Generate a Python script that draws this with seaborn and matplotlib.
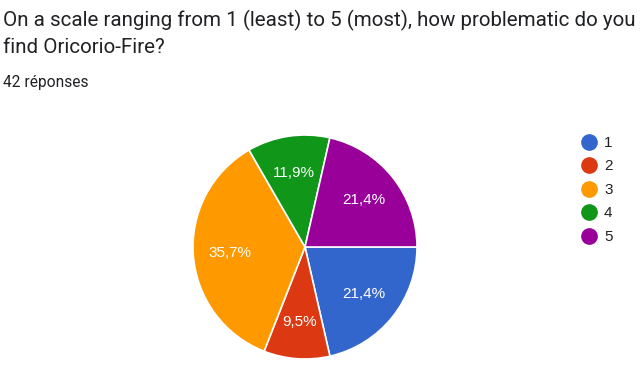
import matplotlib
matplotlib.use("Agg")
import matplotlib.pyplot as plt
from matplotlib.lines import Line2D
import seaborn as sns

categories = ["1", "2", "3", "4", "5"]
counts = [9, 4, 15, 5, 9]
colors = ["#3366cc", "#dc3912", "#ff9900", "#109618", "#990099"]
title_lines = ["On a scale ranging from 1 (least) to 5 (most), how problematic do you",
               "find Oricorio-Fire?"]
subtitle = "42 réponses"

sns.set_theme(style="white")
plt.rcParams['font.family'] = ['Roboto', 'DejaVu Sans']

W, H = 643, 381
fig = plt.figure(figsize=(W / 100, H / 100), dpi=100)
fig.patch.set_facecolor("white")

cx, cy, r = 305, 247, 112
ax = fig.add_axes([(cx - r) / W, (H - cy - r) / H, 2 * r / W, 2 * r / H])
wedges, texts, autotexts = ax.pie(
    counts, colors=colors, startangle=0, counterclock=False,
    autopct=lambda p: f"{p:.1f}%".replace(".", ","), pctdistance=0.67,
    wedgeprops=dict(edgecolor="white", linewidth=1.2),
    textprops=dict(color="white", fontsize=11, family=['Liberation Sans', 'DejaVu Sans']))
ax.set_xlim(-1, 1)
ax.set_ylim(-1, 1)
ax.set_aspect("equal")
ax.axis("off")

fig.text(3 / W, 1 - 26 / H, title_lines[0], fontsize=14.8, color="#202124", va="baseline")
fig.text(3 / W, 1 - 53 / H, title_lines[1], fontsize=14.8, color="#202124", va="baseline")
fig.text(3 / W, 1 - 87 / H, subtitle, fontsize=11.2, color="#202124", va="baseline")

handles = [Line2D([0], [0], marker="o", linestyle="", markersize=11,
                  markerfacecolor=c, markeredgecolor=c) for c in colors]
leg = fig.legend(handles, categories, loc="upper left", bbox_to_anchor=(581.4 / W, 1 - 136 / H),
                 frameon=False, handlelength=1.0, handletextpad=0.48,
                 labelspacing=0.62, borderaxespad=0, borderpad=0,
                 prop={'family': ['Liberation Sans', 'DejaVu Sans'], 'size': 11})
for t in leg.get_texts():
    t.set_color("#222222")

fig.savefig("out.png", dpi=100, facecolor="white")
